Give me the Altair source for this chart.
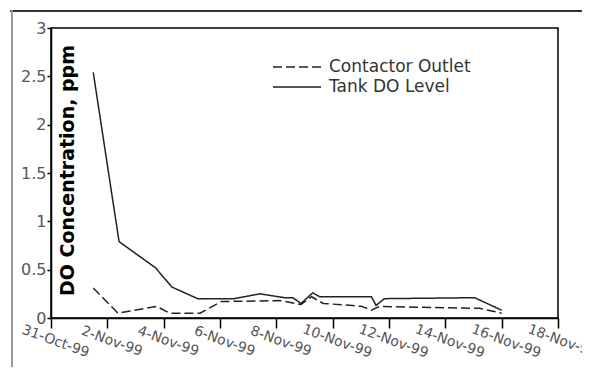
import altair as alt
import pandas as pd

tank_dates = ["1999-11-01T12:00", "1999-11-02T10:00", "1999-11-03T17:00", "1999-11-04T07:00",
              "1999-11-05T05:00", "1999-11-06T12:00", "1999-11-07T10:00", "1999-11-08T07:00",
              "1999-11-08T14:00", "1999-11-08T21:00", "1999-11-09T07:00", "1999-11-09T13:00",
              "1999-11-11T09:00", "1999-11-11T13:00", "1999-11-11T20:00", "1999-11-15T01:00",
              "1999-11-16T00:00"]
tank_vals = [2.54, 0.79, 0.52, 0.32, 0.20, 0.20, 0.25, 0.21, 0.21, 0.15, 0.26, 0.22,
             0.22, 0.13, 0.20, 0.21, 0.08]

cont_dates = ["1999-11-01T12:00", "1999-11-02T09:00", "1999-11-03T18:00", "1999-11-04T05:00",
              "1999-11-05T07:00", "1999-11-06T01:00", "1999-11-08T03:00", "1999-11-08T21:00",
              "1999-11-09T06:00", "1999-11-09T16:00", "1999-11-10T17:00", "1999-11-11T01:00",
              "1999-11-11T09:00", "1999-11-11T16:00", "1999-11-15T05:00", "1999-11-16T00:00"]
cont_vals = [0.31, 0.05, 0.12, 0.05, 0.05, 0.17, 0.18, 0.14, 0.22, 0.15, 0.13, 0.12,
             0.08, 0.12, 0.10, 0.05]

series_names = ["Contactor Outlet", "Tank DO Level"]
x_tick_dates = ["1999-10-31", "1999-11-02", "1999-11-04", "1999-11-06", "1999-11-08",
                "1999-11-10", "1999-11-12", "1999-11-14", "1999-11-16", "1999-11-18"]
y_ticks = [0, 0.5, 1, 1.5, 2, 2.5, 3]

df = pd.concat([
    pd.DataFrame({"date": cont_dates, "value": cont_vals, "series": series_names[0]}),
    pd.DataFrame({"date": tank_dates, "value": tank_vals, "series": series_names[1]}),
])

def dt(s):
    y, m, d = s.split("-")
    return alt.DateTime(year=int(y), month=int(m), date=int(d))

lines = alt.Chart(df).mark_line(color="#222222", strokeWidth=1.5).encode(
    x=alt.X("date:T",
            scale=alt.Scale(domain=[dt(x_tick_dates[0]), dt(x_tick_dates[-1])], nice=False),
            axis=alt.Axis(values=[dt(s) for s in x_tick_dates], format="%-d-%b-%y",
                          title=None, grid=False, labelAngle=20, labelAlign="center",
                          labelBaseline="middle", labelPadding=13, labelOffset=4,
                          tickSize=10, labelFont="DejaVu Sans", labelFontSize=14,
                          labelColor="#555555", domainColor="#000000", tickColor="#000000",
                          domainWidth=1.5, tickWidth=1.5, labelOverlap=False)),
    y=alt.Y("value:Q", scale=alt.Scale(domain=[0, 3], nice=False),
            axis=alt.Axis(values=y_ticks, format="~g", title="DO Concentration, ppm",
                          grid=False, tickSize=4, labelPadding=1, labelFont="DejaVu Sans",
                          labelFontSize=16, labelColor="#555555", domainColor="#000000",
                          tickColor="#000000", domainWidth=1.5, tickWidth=1.5,
                          titleFont="DejaVu Sans", titleFontSize=19, titleFontWeight="bold",
                          titleColor="#000000", titleAngle=270, titleAlign="center",
                          titleBaseline="middle", titleX=16, titleY=142)),
    strokeDash=alt.StrokeDash("series:N",
                              scale=alt.Scale(domain=series_names, range=[[9, 4], [1, 0]]),
                              legend=alt.Legend(title=None, orient="none", legendX=221, legendY=29,
                                                symbolType="stroke", symbolSize=2304,
                                                symbolStrokeWidth=1.5, labelFont="DejaVu Sans",
                                                labelFontSize=17, labelColor="#333333",
                                                labelOffset=7, rowPadding=0, padding=0,
                                                clipHeight=20)),
    order=alt.Order("date:T"),
)

one = pd.DataFrame({"k": [0]})
frame_top = alt.Chart(one).mark_rule(color="#333333", strokeWidth=2).encode(
    x=alt.value(-41), x2=alt.value(560), y=alt.value(-17))
frame_left = alt.Chart(one).mark_rule(color="#999999", strokeWidth=2).encode(
    x=alt.value(-39), y=alt.value(-18), y2=alt.value(400))

chart = alt.layer(frame_top, frame_left, lines).properties(
    width=507, height=290,
    autosize=alt.AutoSizeParams(type="none"),
    padding={"left": 43, "top": 20, "right": 24, "bottom": 49},
).configure(background="#ffffff").configure_view(stroke="#000000", strokeWidth=1.5)

chart.save("out.html", embed_options={"renderer": "svg", "actions": False})
